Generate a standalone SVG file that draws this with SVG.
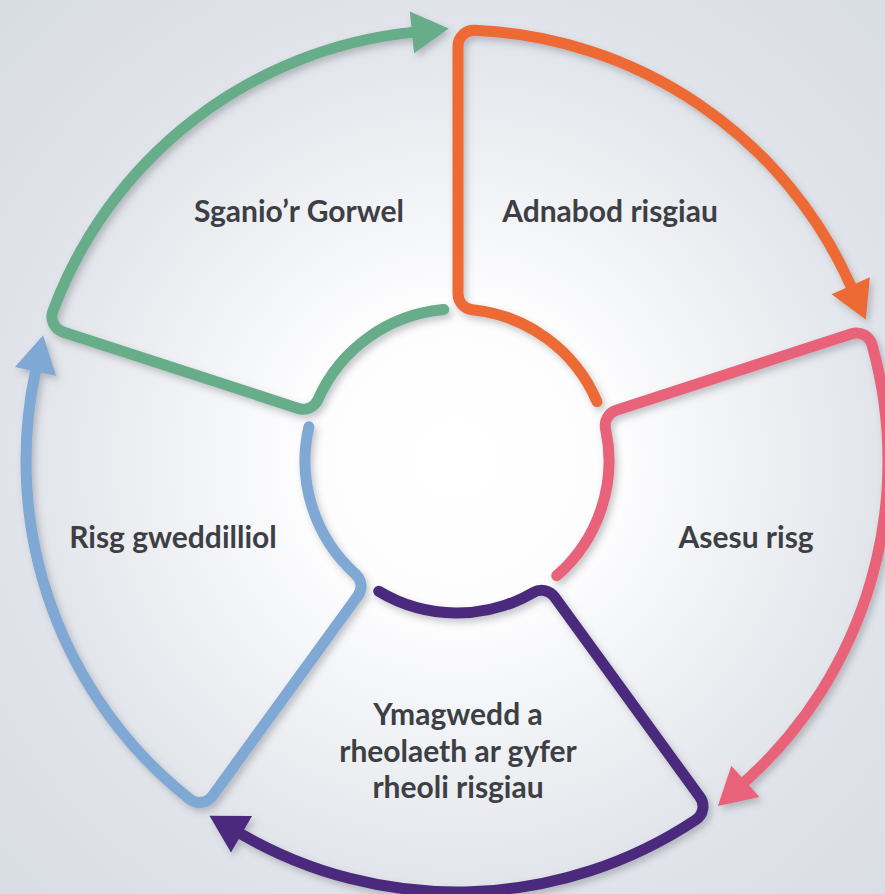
<svg xmlns="http://www.w3.org/2000/svg" width="885" height="894" viewBox="0 0 885 894">
<defs>
  <radialGradient id="bg" gradientUnits="userSpaceOnUse" cx="457" cy="461" r="640">
    <stop offset="0" stop-color="#ffffff"/>
    <stop offset="0.25" stop-color="#fdfdfe"/>
    <stop offset="0.68" stop-color="#e1e4ea"/>
    <stop offset="1" stop-color="#d8dce3"/>
  </radialGradient>
  <filter id="sh" x="-10%" y="-10%" width="120%" height="120%">
    <feDropShadow dx="3" dy="4" stdDeviation="3.5" flood-color="#5a5f68" flood-opacity="0.35"/>
  </filter>
  <path id="seg" d="M139.92,-59.39 A152,152 0 0 0 15.38,-151.22 A16,16 0 0 1 1,-167.14 L1,-414.65 A16,16 0 0 1 17.66,-430.64 A431,431 0 0 1 393.72,-175.29"/>
  <path id="head" d="M412.90,-183.83 L408.77,-141.49 L374.54,-166.75 Z"/>
  <style>
    .ln { fill: none; stroke-width: 11; stroke-linecap: round; stroke-linejoin: round; }
    .lbl { font-family: Lato, "Liberation Sans", sans-serif; font-weight: 700; font-size: 30px; fill: #3d3f44; text-anchor: middle; }
  </style>
</defs>
<rect x="0" y="0" width="885" height="894" fill="url(#bg)"/>

<g id="adnabod-risgiau">
  <g filter="url(#sh)"><g transform="translate(457,461) rotate(0)">
    <use href="#seg" class="ln" stroke="#ee6a36"/><use href="#head" fill="#ee6a36"/>
  </g></g>
  <text class="lbl" x="610" y="222">Adnabod risgiau</text>
</g>

<g id="asesu-risg">
  <g filter="url(#sh)"><g transform="translate(457,461) rotate(72)">
    <use href="#seg" class="ln" stroke="#e86479"/><use href="#head" fill="#e86479"/>
  </g></g>
  <text class="lbl" x="746" y="548">Asesu risg</text>
</g>

<g id="ymagwedd">
  <g filter="url(#sh)"><g transform="translate(457,461) rotate(144)">
    <use href="#seg" class="ln" stroke="#4b2c7d"/><use href="#head" fill="#4b2c7d"/>
  </g></g>
  <text class="lbl" x="458" y="725">Ymagwedd a</text>
  <text class="lbl" x="458" y="762">rheolaeth ar gyfer</text>
  <text class="lbl" x="458" y="798">rheoli risgiau</text>
</g>

<g id="risg-gweddilliol">
  <g filter="url(#sh)"><g transform="translate(457,461) rotate(216)">
    <use href="#seg" class="ln" stroke="#80a8d4"/><use href="#head" fill="#80a8d4"/>
  </g></g>
  <text class="lbl" x="173" y="548">Risg gweddilliol</text>
</g>

<g id="sganio-gorwel">
  <g filter="url(#sh)"><g transform="translate(457,461) rotate(288)">
    <use href="#seg" class="ln" stroke="#68ad89"/><use href="#head" fill="#68ad89"/>
  </g></g>
  <text class="lbl" x="299" y="222">Sganio’r Gorwel</text>
</g>
</svg>
